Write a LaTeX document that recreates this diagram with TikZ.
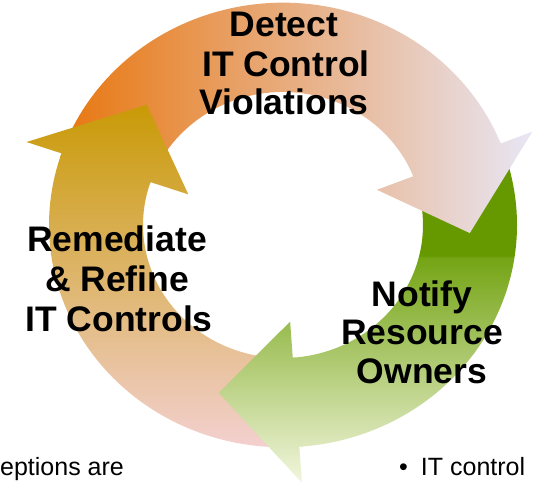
\documentclass[tikz,border=0pt]{standalone}
\usepackage{fontspec}
\setmainfont{Liberation Sans}
\definecolor{oL}{HTML}{E8740A}
\definecolor{oR}{HTML}{E8E6F5}
\definecolor{gT}{HTML}{C99A06}
\definecolor{gB}{HTML}{F3D0D0}
\definecolor{grD}{HTML}{669900}
\definecolor{grM}{HTML}{74A414}
\definecolor{grB}{HTML}{F2F6DE}
\pgfdeclareverticalshading{greensh}{100bp}{color(0bp)=(grB); color(25bp)=(grB); color(57.9bp)=(grM); color(58.1bp)=(grD); color(100bp)=(grD)}
\begin{document}
\begin{tikzpicture}[x=1pt,y=1pt,
  lbl/.style={font=\fontsize{35.5}{40}\selectfont\bfseries, inner sep=0pt, anchor=base},
  small/.style={font=\fontsize{25}{30}\selectfont, inner sep=0pt, anchor=base west},
  orangefill/.style={left color=oL, right color=oR},
  goldfill/.style={top color=gT, bottom color=gB},
  greenfill/.style={shading=greensh}]
\useasboundingbox (0,0) rectangle (533,485);
\begin{scope}[shift={(283,260)}]
  % ---- bodies ----
  \begin{scope}
    \clip (155:234 and 222.3) arc[start angle=155,end angle=21.5,x radius=234,y radius=222.3]
      -- (21.5:140 and 133) arc[start angle=21.5,end angle=155,x radius=140,y radius=133] -- cycle;
    \shade[orangefill] (-234,-40) rectangle (250,230);
  \end{scope}
  \begin{scope}
    \clip (15:234 and 222.3) arc[start angle=15,end angle=-86,x radius=234,y radius=222.3]
      -- (-86:140 and 133) arc[start angle=-86,end angle=15,x radius=140,y radius=133] -- cycle;
    \shade[greenfill] (-80,-258) rectangle (240,85);
  \end{scope}
  \begin{scope}
    \clip (-93:234 and 222.3) arc[start angle=-93,end angle=-198.8,x radius=234,y radius=222.3]
      -- (-198.8:140 and 133) arc[start angle=-198.8,end angle=-93,x radius=140,y radius=133] -- cycle;
    \shade[goldfill] (-260,-222) rectangle (20,120);
  \end{scope}
  % ---- heads ----
  \begin{scope}
    \clip (22.5:140 and 133) -- (21.5:140 and 133) -- (21.5:101 and 96) -- (-2.6:187 and 177.7)
      -- (21.5:268 and 254.6) -- (21.5:234 and 222.3) -- (22.5:234 and 222.3) -- cycle;
    \shade[orangefill] (-234,-40) rectangle (250,230);
  \end{scope}
  \begin{scope}
    \clip (-85:140 and 133) -- (-86:140 and 133) -- (-86:102 and 96.9) -- (-110:188 and 178.6)
      -- (-86:272 and 258.4) -- (-86:234 and 222.3) -- (-85:234 and 222.3) -- cycle;
    \shade[greenfill] (-80,-258) rectangle (240,85);
  \end{scope}
  \begin{scope}
    \clip (-197.8:140 and 133) -- (-198.8:140 and 133) -- (-198.8:100 and 95) -- (-222.9:186 and 176.7)
      -- (-198.8:271 and 257.5) -- (-198.8:234 and 222.3) -- (-197.8:234 and 222.3) -- cycle;
    \shade[goldfill] (-260,-222) rectangle (20,120);
  \end{scope}
\end{scope}
% ---- labels ----
\node[lbl] (d1) at (284,448) {Detect};
\node[lbl] (d2) at (286,408) {IT Control};
\node[lbl] (d3) at (284,370) {Violations};
\node[lbl] (r1) at (117,233) {Remediate};
\node[lbl] (r2) at (117,193) {\& Refine};
\node[lbl] (r3) at (119,153) {IT Controls};
\node[lbl] (n1) at (422,178) {Notify};
\node[lbl] (n2) at (422,140) {Resource};
\node[lbl] (n3) at (422,101) {Owners};
\node[small] (t1) at (0,10) {eptions are};
\node[small] (t2) at (399,10) {•\hspace{13pt}IT control};
\end{tikzpicture}
\end{document}
